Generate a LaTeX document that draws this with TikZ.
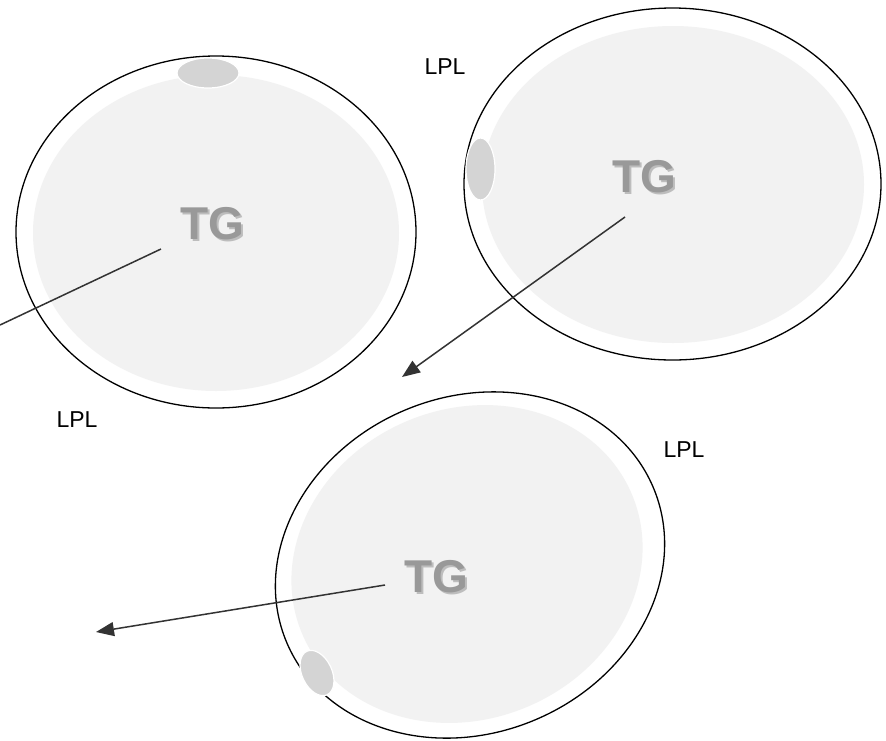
\documentclass[tikz,border=0pt]{standalone}
\usepackage{fontspec}
\setmainfont{Liberation Sans}
\usetikzlibrary{shapes.geometric,arrows.meta}
\definecolor{corefill}{HTML}{F2F2F2}
\definecolor{dropfill}{HTML}{D4D4D4}
\definecolor{tggray}{HTML}{999999}
\definecolor{tgshade}{HTML}{BDBDBD}
\definecolor{linkgray}{HTML}{333333}
\newcommand{\shadowtg}{\makebox[0pt][l]{\hspace{2pt}\raisebox{-2pt}{\textcolor{tgshade}{TG}}}TG}
\tikzset{
  cell/.style={ellipse, draw=black, line width=1.3pt, fill=white, inner sep=0pt},
  core/.style={ellipse, fill=corefill, inner sep=0pt},
  drop/.style={ellipse, fill=dropfill, draw=white, line width=1.2pt, inner sep=0pt},
  lbl/.style={font=\fontsize{23}{27}\selectfont, text=black, inner sep=0pt},
  tg/.style={font=\fontsize{46}{50}\selectfont\bfseries, text=tggray, inner sep=0pt},
  link/.style={draw=linkgray, line width=1.5pt},
  arr/.style={link, -{Triangle[length=18pt,width=14pt]}}
}
\begin{document}
\begin{tikzpicture}[x=1pt,y=-1pt]
\useasboundingbox (0,0) rectangle (886,740);
\fill[white] (0,0) rectangle (886,740);

% cell 1 (top left)
\node[cell, minimum width=400pt, minimum height=352pt] (c1) at (216,232) {};
\node[core, minimum width=366pt, minimum height=316pt] (k1) at (216,233) {};
\node[drop, minimum width=62pt, minimum height=30pt] (d1) at (208,73) {};
\node[tg] (t1) at (212,225) {\shadowtg};

% cell 2 (top right)
\node[cell, minimum width=417pt, minimum height=352pt] (c2) at (672.5,184) {};
\node[core, minimum width=382pt, minimum height=317pt] (k2) at (673,184.5) {};
\node[drop, minimum width=29pt, minimum height=62pt] (d2) at (480.5,169) {};
\node[tg] (t2) at (644.5,178) {\shadowtg};

% cell 3 (bottom)
\node[cell, rotate=23, minimum width=398pt, minimum height=336pt] (c3) at (470,565) {};
\node[core, rotate=23, minimum width=358pt, minimum height=310pt] (k3) at (467,564) {};
\node[drop, rotate=25, minimum width=30pt, minimum height=48pt] (d3) at (317,673) {};
\node[tg] (t3) at (436.5,578) {\shadowtg};

% labels
\node[lbl] (l1) at (445,67) {LPL};
\node[lbl] (l2) at (77,420) {LPL};
\node[lbl] (l3) at (684,450) {LPL};

% connectors
\coordinate (a1) at (161,249);
\coordinate (e1) at (0,325);
\coordinate (a2) at (625,217);
\coordinate (e2) at (402,377);
\coordinate (a3) at (385,585);
\coordinate (e3) at (96,632);
\draw[link] (a1) -- (e1);
\draw[arr] (a2) -- (e2);
\draw[arr] (a3) -- (e3);
\end{tikzpicture}
\end{document}
